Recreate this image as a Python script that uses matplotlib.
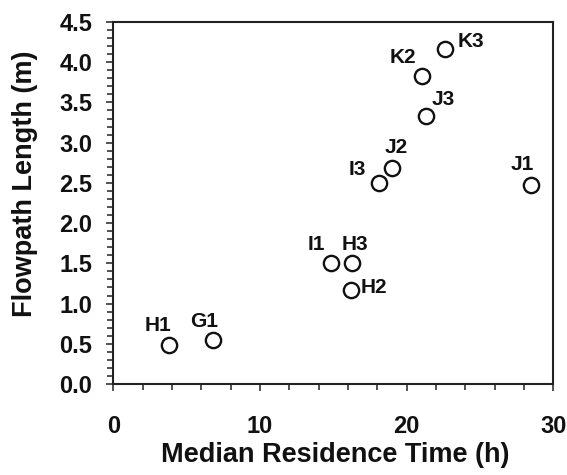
import matplotlib
matplotlib.use("Agg")
import matplotlib.pyplot as plt
from matplotlib.ticker import MultipleLocator, FormatStrFormatter

plt.rcParams['font.family'] = ['Liberation Sans', 'DejaVu Sans']
plt.rcParams['font.weight'] = 'bold'

labels = ["H1", "G1", "I1", "H3", "H2", "I3", "J2", "J3", "K2", "K3", "J1"]
residence_time = [3.8, 6.8, 14.85, 16.25, 16.2, 18.15, 19.0, 21.35, 21.05, 22.65, 28.45]
flowpath_length = [0.49, 0.55, 1.50, 1.50, 1.17, 2.50, 2.68, 3.33, 3.83, 4.16, 2.47]
# label offsets in pixels (dx, dy) and horizontal alignment
label_offsets = [(-11, 19, 'center'), (-9, 18, 'center'), (-15, 19, 'center'),
                 (3, 19, 'center'), (10, 2, 'left'), (-22, 13, 'center'),
                 (4, 21, 'center'), (17, 17, 'center'), (-19, 18, 'center'),
                 (12, 8, 'left'), (-8, 21, 'center')]

W, H = 567, 475
fig = plt.figure(figsize=(W/100, H/100), dpi=100)
ax = fig.add_axes([113.3/W, 1-384/H, 440/W, 362/H])

ax.plot(residence_time, flowpath_length, linestyle='none', marker='o',
        markersize=11, markerfacecolor='white', markeredgecolor='#111111',
        markeredgewidth=1.7)

for lab, x, y, (dx, dy, ha) in zip(labels, residence_time, flowpath_length, label_offsets):
    ax.annotate(lab, (x, y), xytext=(dx, dy), textcoords='offset pixels',
                ha=ha, va='center', fontsize=15, fontweight='bold', color='#111111')

ax.set_xlim(0, 30)
ax.set_ylim(0, 4.5)
ax.xaxis.set_major_locator(MultipleLocator(10))
ax.xaxis.set_minor_locator(MultipleLocator(2))
ax.yaxis.set_major_locator(MultipleLocator(0.5))
ax.yaxis.set_minor_locator(MultipleLocator(0.1))
ax.yaxis.set_major_formatter(FormatStrFormatter('%.1f'))

for s in ax.spines.values():
    s.set_linewidth(1.5)
    s.set_color('#222222')

ax.tick_params(axis='both', which='both', direction='out', color='#222222', width=1.1,
               labelcolor='#111111')
ax.tick_params(axis='x', which='major', length=5, pad=17, labelsize=17)
ax.tick_params(axis='x', which='minor', length=4)
ax.tick_params(axis='y', which='major', length=5, pad=10, labelsize=17)
ax.tick_params(axis='y', which='minor', length=4)
for t in ax.get_xticklabels() + ax.get_yticklabels():
    t.set_fontweight('bold')

fig.text(335/W, 1-462/H, 'Median Residence Time (h)', fontsize=19.5, fontweight='bold',
         ha='center', va='baseline', color='#111111')
fig.text(25.5/W, 1-184/H, 'Flowpath Length (m)', fontsize=19.5, fontweight='bold',
         ha='center', va='center', rotation=90, color='#111111')

fig.savefig('out.png', dpi=100)
